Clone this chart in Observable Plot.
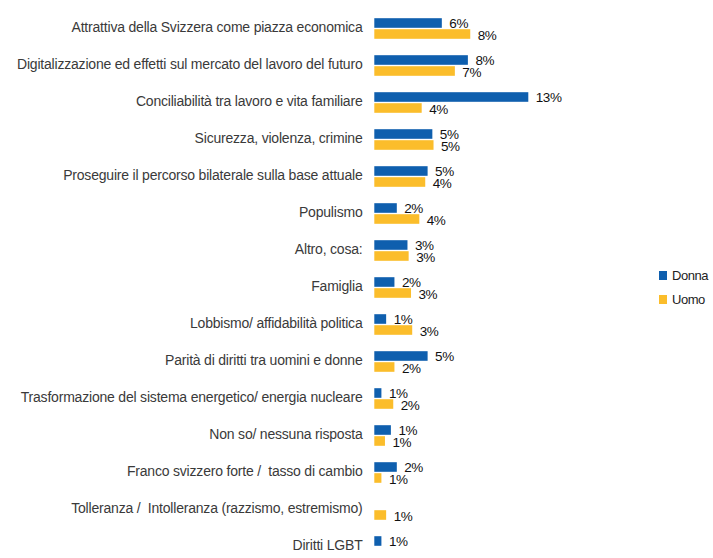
<!DOCTYPE html>
<html>
<head>
<meta charset="utf-8">
<script src="https://cdn.jsdelivr.net/npm/d3@7"></script>
<script src="https://cdn.jsdelivr.net/npm/@observablehq/plot@0.6"></script>
<style>
  html, body { margin: 0; padding: 0; background: #fff; }
  #wrap { position: relative; width: 713px; height: 558px; overflow: hidden; }
  #wrap svg text { letter-spacing: -0.45px; }
  #wrap svg g[aria-label="y-axis tick label"] text { letter-spacing: -0.2px; }
  .legend { position: absolute; left: 659px; font-family: "Liberation Sans", Arial, sans-serif; font-size: 13px; color: #222; letter-spacing: -0.45px; }
  .legend .item { position: absolute; left: 0; white-space: nowrap; height: 14px; line-height: 14px; }
  .legend .sw { position: absolute; left: 0; top: 2px; width: 8px; height: 9px; }
  .legend .lb { position: absolute; left: 13px; top: 0; }
</style>
</head>
<body>
<div id="wrap"></div>
<script>
const categories = [
  "Attrattiva della Svizzera come piazza economica",
  "Digitalizzazione ed effetti sul mercato del lavoro del futuro",
  "Conciliabilità tra lavoro e vita familiare",
  "Sicurezza, violenza, crimine",
  "Proseguire il percorso bilaterale sulla base attuale",
  "Populismo",
  "Altro, cosa:",
  "Famiglia",
  "Lobbismo/ affidabilità politica",
  "Parità di diritti tra uomini e donne",
  "Trasformazione del sistema energetico/ energia nucleare",
  "Non so/ nessuna risposta",
  "Franco svizzero forte /  tasso di cambio",
  "Tolleranza /  Intolleranza (razzismo, estremismo)",
  "Diritti LGBT"
];
const seriesNames = ["Donna", "Uomo"];
const donna = [5.7, 7.9, 13.0, 4.9, 4.5, 1.9, 2.8, 1.7, 1.0, 4.5, 0.6, 1.4, 1.9, null, 0.6];
const uomo  = [8.1, 6.8, 4.0, 5.0, 4.3, 3.8, 2.9, 3.1, 3.2, 1.7, 1.6, 0.9, 0.6, 1.0, null];
const colors = ["#0f5fae", "#fbbd2b"];

const rows = categories.map((c, i) => ({cat: c, donna: donna[i], uomo: uomo[i]}));
const fmt = v => Math.round(v) + "%";

const chart = Plot.plot({
  width: 713,
  height: 558,
  marginLeft: 374,
  marginRight: 0,
  marginTop: 0,
  marginBottom: 0,
  style: {fontFamily: "Liberation Sans, Arial, sans-serif", fontSize: "13px", background: "#fff"},
  x: {domain: [0, 13], range: [374.3, 528.3], axis: null},
  y: {domain: categories, range: [4.1, 571.7], padding: 0, axis: null},
  marks: [
    Plot.axisY({tickSize: 0, tickPadding: 12, fontSize: 14, fill: "#3a3a3a", dy: -1.5, label: null}),
    Plot.barX(rows.filter(d => d.donna != null), {x: "donna", y: "cat", fill: colors[0], insetTop: 8.2, insetBottom: 19.2}),
    Plot.barX(rows.filter(d => d.uomo != null), {x: "uomo", y: "cat", fill: colors[1], insetTop: 19.2, insetBottom: 8.2}),
    Plot.text(rows.filter(d => d.donna != null), {x: "donna", y: "cat", text: d => fmt(d.donna), textAnchor: "start", dx: 7, dy: -5, fill: "#111", fontSize: 13.5}),
    Plot.text(rows.filter(d => d.uomo != null), {x: "uomo", y: "cat", text: d => fmt(d.uomo), textAnchor: "start", dx: 7, dy: 6.5, fill: "#111", fontSize: 13.5})
  ]
});
const wrap = document.getElementById("wrap");
wrap.appendChild(chart);

const legend = document.createElement("div");
legend.className = "legend";
legend.style.top = "269px";
seriesNames.forEach((name, i) => {
  const it = document.createElement("div");
  it.className = "item";
  it.style.top = (i * 24) + "px";
  const sw = document.createElement("span");
  sw.className = "sw";
  sw.style.background = colors[i];
  const lb = document.createElement("span");
  lb.className = "lb";
  lb.textContent = name;
  it.appendChild(sw); it.appendChild(lb);
  legend.appendChild(it);
});
wrap.appendChild(legend);
</script>
</body>
</html>
